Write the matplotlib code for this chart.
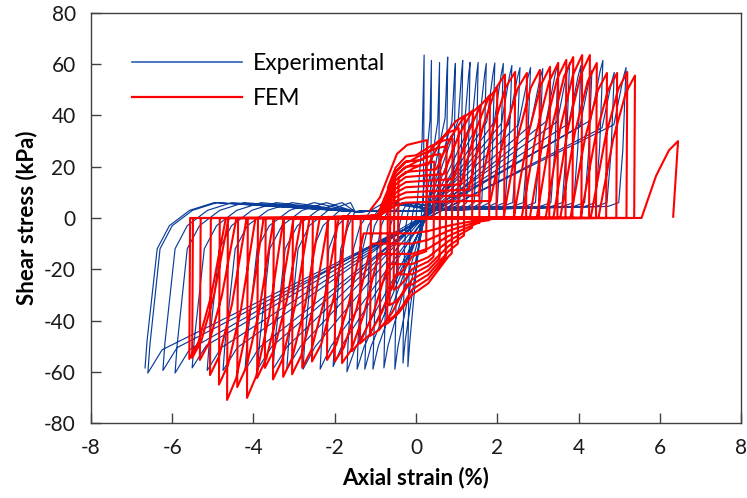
import numpy as np
import matplotlib.pyplot as plt
from matplotlib.lines import Line2D

plt.rcParams['font.family'] = ['Lato', 'DejaVu Sans']
plt.rcParams['axes.unicode_minus'] = False

# ---- experimental loops ----
# compression peaks, one per cycle
exp_peak_x = [0.20, 0.38, 0.58, 0.78, 0.97, 1.15, 1.33, 1.53, 1.73, 1.94, 2.15,
              2.36, 2.56, 2.82, 3.12, 3.50, 3.78, 4.06, 4.33, 4.60, 4.88, 5.17]
exp_peak_y = [63.6, 61.5, 60.7, 62.8, 60.3, 61.5, 60.7, 60.7, 60.3, 60.5, 60.3,
              59.5, 58.7, 58.7, 58.3, 60.7, 60.7, 59.5, 57.6, 61.5, 56.8, 58.7]
# extension troughs, one per cycle
exp_trough_x = [-0.20, -0.32, -0.52, -0.79, -1.06, -1.26, -1.45, -1.70, -2.04, -2.36, -2.78,
                -3.18, -3.52, -3.90, -4.21, -4.75, -5.14, -5.51, -5.93, -6.23, -6.60, -6.67]
exp_trough_y = [-58.0, -56.6, -59.0, -58.5, -59.0, -59.0, -59.0, -60.0, -58.0, -59.0, -59.0,
                -59.0, -59.0, -59.0, -59.5, -59.5, -59.5, -58.5, -60.5, -59.5, -60.5, -58.5]

# ---- FEM loops ----
fem_start_x = [-1.13, -0.89, -0.47, -0.22]
fem_start_y = [3.0, 8.0, 25.0, 28.5]
fem_peak_x = [0.27, 0.45, 0.60, 0.75, 0.90, 1.05, 1.20, 1.40, 1.58, 1.82, 2.00, 2.19, 2.44,
              2.73, 3.05, 3.30, 3.50, 3.70, 3.87, 4.09, 4.28, 4.45, 4.70, 4.95, 5.20, 5.39, 6.45]
fem_peak_y = [30.4, 22.0, 25.0, 28.0, 31.0, 35.0, 40.0, 42.0, 44.0, 48.0, 51.0, 56.0, 57.0,
              56.6, 57.8, 59.0, 60.5, 61.7, 62.8, 63.6, 63.6, 60.5, 56.6, 56.6, 57.0, 55.6, 30.0]
fem_trough_x = [-0.45, -0.55, -0.65, -0.71, -0.89, -1.13, -1.38, -1.58, -1.82, -2.00, -2.19,
                -2.56, -2.80, -3.05, -3.27, -3.52, -3.72, -3.91, -4.16, -4.40, -4.65, -4.85,
                -5.07, -5.32, -5.51, -5.58]
fem_trough_y = [-22.0, -28.0, -34.0, -40.0, -42.5, -46.0, -49.0, -52.0, -56.6, -56.0, -55.4,
                -56.0, -58.5, -61.0, -62.0, -63.0, -58.5, -62.4, -70.2, -66.0, -71.0, -65.0,
                -61.3, -55.4, -54.6, -55.0]
# plateau stress near zero strain on loading (upper arcs) and on unloading (lower arcs)
fem_bump = [0, 18, 20, 22, 24, 22, 20, 18, 16, 14, 12, 10, 8, 6, 0, 0, 0, 0, 0, 0,
            0, 0, 0, 0, 0, 0, 0]
fem_dip = [15, 20, 24, 28, 30, 26, 22, 18, 14, 10, 6, 0, 0, 0, 0, 0, 0, 0, 0, 0,
           0, 0, 0, 0, 0, 0]


def exp_reload(xe, ye, xc, yc):
    k = np.clip((xc - xe) / 6.0, 0.12, 1.0)
    return [(xe, ye), (xe + 0.35 * k, 0.85 * ye), (xc - 0.3 * k, 0.62 * yc),
            (xc - 0.07 * k, 0.93 * yc), (xc, yc)]


def exp_unload(xc, yc, xe, ye):
    k = np.clip((xc - xe) / 6.0, 0.12, 1.0)
    head = [(xc, yc), (xc - 0.08 * k, 0.45 * yc), (xc - 0.18 * k, 6.0)]
    mid = [(xc - 0.45 * k, 4.5), (0.5, 3.0), (-1.5, 2.5), (xe + 1.7 * k, 6.0), (xe + 1.1 * k, 3.0)]
    tail = [(xe + 0.6 * k, -3.0), (xe + 0.3 * k, -12.0), (xe + 0.05 * k, 0.82 * ye), (xe, ye)]
    pts = list(head)
    for p in mid:
        if pts[-1][0] > p[0] > tail[0][0]:
            pts.append(p)
    return pts + tail


def fem_reload(xe, ye, xc, yc, b, w=0.9):
    bx = [-9, -0.95, -0.75, -0.5, -0.25, 0.4, 1.2, 9]
    by = [0, 0.05 * b, 0.4 * b, 0.82 * b, b, 1.05 * b, 1.1 * b, 1.1 * b]
    x0 = xe + 0.02
    pts = [(xe, ye), (x0, np.interp(x0, bx, by))]
    xs = max(xc - w, x0 + 0.01)
    for x, y in zip(bx, by):
        if x0 < x < xs:
            pts.append((x, y))
    ys = np.interp(xs, bx, by)
    pts += [(xs, ys), (xc - 0.6 * w, ys + 0.55 * (yc - ys)),
            (xc - 0.25 * w, ys + 0.88 * (yc - ys)), (xc, yc)]
    return pts


def fem_unload(xc, yc, xe, ye, d, w=0.9):
    bx = [-9, -0.1, 0.3, 0.8, 1.5, 2.2, 9]
    by = [-d, -d, -0.85 * d, -0.5 * d, -0.15 * d, 0, 0]
    x0 = xc - 0.02
    pts = [(xc, yc), (x0, np.interp(x0, bx, by))]
    xs = min(xe + w, x0 - 0.01)
    if d > 0:
        # lower arcs run straight into the descending branch
        xs = min(xs, -0.1)
    for x, y in zip(bx[::-1], by[::-1]):
        if x0 > x > xs:
            pts.append((x, y))
    ys = np.interp(xs, bx, by)
    tw = xs - xe
    pts += [(xs, ys), (xe + 0.6 * tw, ys + 0.55 * (ye - ys)),
            (xe + 0.25 * tw, ys + 0.88 * (ye - ys)), (xe, ye)]
    return pts


# build experimental path
exp_path = [(0.0, 0.0)]
for i in range(len(exp_peak_x)):
    if i == 0:
        exp_path += [(0.15, 30.0), (exp_peak_x[0], exp_peak_y[0])]
    else:
        exp_path += exp_reload(exp_trough_x[i - 1], exp_trough_y[i - 1],
                               exp_peak_x[i], exp_peak_y[i])[1:]
    exp_path += exp_unload(exp_peak_x[i], exp_peak_y[i],
                           exp_trough_x[i], exp_trough_y[i])[1:]
exp_path = np.array(exp_path)

# build FEM path
fem_path = list(zip(fem_start_x, fem_start_y)) + [(fem_peak_x[0], fem_peak_y[0])]
for i in range(len(fem_peak_x)):
    if i > 0:
        fem_path += fem_reload(fem_trough_x[i - 1], fem_trough_y[i - 1],
                               fem_peak_x[i], fem_peak_y[i], fem_bump[i])[1:]
    if i < len(fem_trough_x):
        fem_path += fem_unload(fem_peak_x[i], fem_peak_y[i],
                               fem_trough_x[i], fem_trough_y[i], fem_dip[i])[1:]
fem_path.append((fem_peak_x[-1] - 0.12, 0.5))
fem_path = np.array(fem_path)

fig = plt.figure(figsize=(7.47, 4.98), dpi=100)
ax = fig.add_axes([0.1218, 0.1506, 0.8702, 0.8233])

ax.plot(exp_path[:, 0], exp_path[:, 1], color='#0B3D9A', lw=0.85)
ax.plot(fem_path[:, 0], fem_path[:, 1], color='#FF0000', lw=1.5)

ax.set_xlim(-8, 8)
ax.set_ylim(-80, 80)
ax.set_xticks(np.arange(-8, 9, 2))
ax.set_yticks(np.arange(-80, 81, 20))
ax.tick_params(direction='in', length=7, width=1, color='#404040',
               labelsize=15, labelcolor='#1a1a1a')
ax.tick_params(axis='x', pad=11)
ax.tick_params(axis='y', pad=11)
for s in ax.spines.values():
    s.set_color('#404040')
    s.set_linewidth(1)

ax.set_xlabel('Axial strain (%)', fontsize=16, fontweight='bold', labelpad=6)
ax.set_ylabel('Shear stress (kPa)', fontsize=16, fontweight='bold', labelpad=5)

handles = [Line2D([], [], color='#2F5DB8', lw=1.2),
           Line2D([], [], color='#FF0000', lw=1.6)]
ax.legend(handles, ['Experimental', 'FEM'], loc='upper left',
          bbox_to_anchor=(0.045, 0.93), frameon=False, fontsize=16.5,
          handlelength=4.8, handletextpad=0.5, labelspacing=0.6, borderpad=0)

fig.savefig('out.png', dpi=100)
